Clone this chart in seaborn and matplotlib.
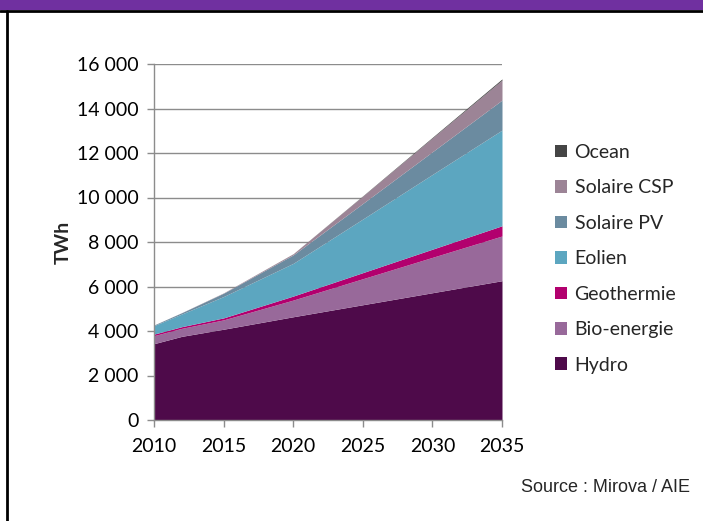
import matplotlib
matplotlib.use("Agg")
import matplotlib.pyplot as plt
from matplotlib.patches import Rectangle
from matplotlib.lines import Line2D
from matplotlib.ticker import FuncFormatter
import seaborn as sns
import numpy as np

years = [2010, 2012, 2015, 2020, 2025, 2030, 2035]
hydro = [3430, 3760, 4080, 4640, 5180, 5720, 6260]
bio_energie = [360, 360, 420, 750, 1170, 1590, 2010]
geothermie = [70, 75, 90, 180, 273, 367, 460]
eolien = [380, 570, 960, 1470, 2410, 3360, 4300]
solaire_pv = [30, 60, 150, 380, 700, 1020, 1350]
solaire_csp = [2, 5, 15, 50, 330, 620, 900]
ocean = [0, 0, 1, 5, 15, 30, 50]

labels = ["Hydro", "Bio-energie", "Geothermie", "Eolien", "Solaire PV", "Solaire CSP", "Ocean"]
colors = ["#4E0A4A", "#98699A", "#B2006E", "#5CA6C0", "#6B8BA0", "#9C8496", "#454545"]
x_ticks = [2010, 2015, 2020, 2025, 2030, 2035]
y_ticks = [0, 2000, 4000, 6000, 8000, 10000, 12000, 14000, 16000]

sns.set_theme(style="white")
plt.rcParams["font.family"] = ["Lato", "DejaVu Sans"]

fig = plt.figure(figsize=(7.03, 5.21), dpi=100)
ax = fig.add_axes([154 / 703, 1 - 420 / 521, 348 / 703, 356 / 521])

series = [hydro, bio_energie, geothermie, eolien, solaire_pv, solaire_csp, ocean]
polys = ax.stackplot(years, *series, colors=colors, labels=labels, linewidth=0, zorder=2)

ax.set_xlim(2010, 2035)
ax.set_ylim(0, 16000)
ax.set_xticks(x_ticks)
ax.set_yticks(y_ticks)
ax.yaxis.set_major_formatter(FuncFormatter(lambda v, p: f"{int(v):,}".replace(",", " ")))
ax.grid(axis="y", color="#8C8C8C", linewidth=1.0, zorder=0)
ax.grid(axis="x", visible=False)
ax.set_axisbelow(True)
for s in ["top", "right"]:
    ax.spines[s].set_visible(False)
for s in ["left", "bottom"]:
    ax.spines[s].set_color("#8C8C8C")
    ax.spines[s].set_linewidth(1.0)
    ax.spines[s].set_zorder(3)
ax.tick_params(axis="both", which="major", direction="out", length=5, width=1.0,
               color="#8C8C8C", labelsize=14, labelcolor="black", left=True, bottom=True)
ax.tick_params(axis="x", pad=8)
ax.tick_params(axis="y", pad=6)
ax.set_ylabel("TWh", fontsize=14, fontweight="bold", labelpad=4)

handles, labs = ax.get_legend_handles_labels()
leg = fig.legend(handles[::-1], labs[::-1], loc="upper left",
                 bbox_to_anchor=(547 / 703, 1 - 136 / 521), frameon=False,
                 fontsize=14, handlelength=0.62, handleheight=0.62,
                 handletextpad=0.4, labelspacing=0.95, borderaxespad=0)

fig.text(690 / 703, 1 - 487 / 521, "Source : Mirova / AIE", ha="right", va="center",
         fontsize=13, family=["Liberation Sans", "DejaVu Sans"])

# frame decorations
fig.patches.append(Rectangle((0, 1 - 10 / 521), 1, 10 / 521, transform=fig.transFigure,
                             facecolor="#7030A0", edgecolor="none", zorder=5))
fig.lines.append(Line2D([0, 1], [1 - 11 / 521, 1 - 11 / 521], transform=fig.transFigure,
                        color="black", linewidth=2.0, zorder=6))
fig.lines.append(Line2D([7 / 703, 7 / 703], [0, 1 - 11 / 521], transform=fig.transFigure,
                        color="black", linewidth=2.0, zorder=6))

fig.savefig("out.png", dpi=100)
